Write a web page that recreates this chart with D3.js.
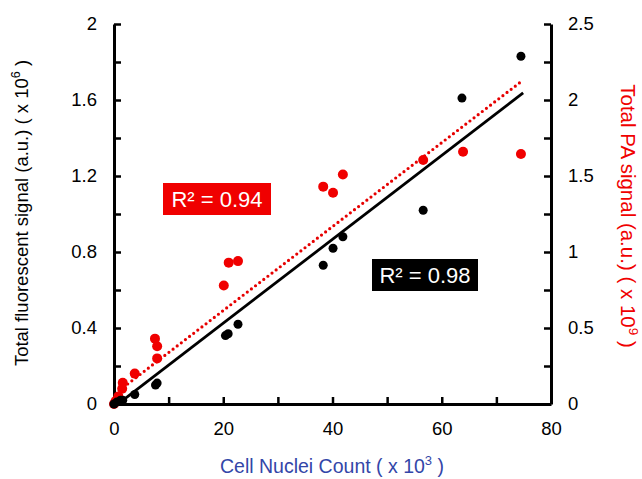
<!DOCTYPE html>
<html>
<head>
<meta charset="utf-8">
<script src="https://cdn.jsdelivr.net/npm/d3@7"></script>
<style>
  body { margin: 0; background: #fff; }
  svg { font-family: "Liberation Sans", Arial, sans-serif; }
</style>
</head>
<body>
<svg id="chart" width="642" height="479"></svg>
<script>
// nuclei count (x 10^3) and fluorescent signal (x 10^6)
const fluorCount = [0, 0.5, 1.2, 1.6, 3.8, 7.6, 7.9, 20.4, 20.9, 22.7, 38.3, 40.1, 41.9, 56.6, 63.7, 74.5];
const fluorSignal = [0, 0.01, 0.02, 0.02, 0.05, 0.10, 0.11, 0.36, 0.37, 0.42, 0.73, 0.82, 0.88, 1.02, 1.61, 1.83];

// nuclei count and PA signal (x 10^9)
const paCount = [0, 0.3, 0.8, 1.5, 1.6, 3.8, 7.5, 7.9, 7.9, 20.1, 21.0, 22.7, 38.3, 40.1, 41.9, 56.6, 63.9, 74.5];
const paSignal = [0, 0.02, 0.05, 0.10, 0.14, 0.20, 0.43, 0.38, 0.30, 0.78, 0.93, 0.94, 1.43, 1.39, 1.51, 1.605, 1.66, 1.645];

// trend line end points
const fluorFitX = [1, 74.9];
const fluorFitY = [0.006, 1.637];
const paFitX = [1, 74.5];
const paFitY = [0.09, 2.12];

const xTicks = [0, 10, 20, 30, 40, 50, 60, 70, 80];
const leftTicks = [0, 0.2, 0.4, 0.6, 0.8, 1, 1.2, 1.4, 1.6, 1.8, 2];
const rightTicks = [0, 0.25, 0.5, 0.75, 1, 1.25, 1.5, 1.75, 2, 2.25, 2.5];

const svg = d3.select("#chart");
const margin = { top: 24, right: 91, bottom: 75, left: 114 };
const width = 642 - margin.left - margin.right;
const height = 479 - margin.top - margin.bottom;

const g = svg.append("g").attr("transform", `translate(${margin.left},${margin.top})`);

const x = d3.scaleLinear().domain([0, 80]).range([0, width]);
const yLeft = d3.scaleLinear().domain([0, 2]).range([height, 0]);
const yRight = d3.scaleLinear().domain([0, 2.5]).range([height, 0]);

const styleAxis = sel => {
    sel.select(".domain").attr("stroke", "#000").attr("stroke-width", 3);
    sel.selectAll(".tick line").attr("stroke", "#000").attr("stroke-width", 2.5);
    sel.selectAll(".tick text").attr("fill", "#000").style("font-size", "18.5px")
        .style("font-family", "Liberation Sans, Arial, sans-serif");
};

// x axis, ticks pointing inward
g.append("g")
    .attr("transform", `translate(0,${height})`)
    .call(d3.axisBottom(x).tickValues(xTicks).tickSizeInner(-7).tickSizeOuter(0).tickPadding(18)
        .tickFormat(d => d % 20 === 0 ? d : ""))
    .call(styleAxis);

g.append("g")
    .call(d3.axisLeft(yLeft).tickValues(leftTicks).tickSizeInner(-7).tickSizeOuter(0).tickPadding(17)
        .tickFormat(d => Math.round(d * 10) % 4 === 0 ? d3.format("~g")(d) : ""))
    .call(styleAxis);

g.append("g")
    .attr("transform", `translate(${width},0)`)
    .call(d3.axisRight(yRight).tickValues(rightTicks).tickSizeInner(-7).tickSizeOuter(0).tickPadding(17)
        .tickFormat(d => Math.round(d * 100) % 50 === 0 ? d3.format("~g")(d) : ""))
    .call(styleAxis);

// trend lines
const fluorLine = d3.line().x(d => x(d[0])).y(d => yLeft(d[1]));
const paLine = d3.line().x(d => x(d[0])).y(d => yRight(d[1]));

g.append("path")
    .datum(d3.zip(paFitX, paFitY))
    .attr("fill", "none")
    .attr("stroke", "#e60000")
    .attr("stroke-width", 3.2)
    .attr("stroke-linecap", "round")
    .attr("stroke-dasharray", "0 5.2")
    .attr("d", paLine);

g.append("path")
    .datum(d3.zip(fluorFitX, fluorFitY))
    .attr("fill", "none")
    .attr("stroke", "#000")
    .attr("stroke-width", 2.8)
    .attr("d", fluorLine);

// points
g.selectAll(".pa-point")
    .data(d3.zip(paCount, paSignal))
    .enter()
    .append("circle")
    .attr("class", "pa-point")
    .attr("cx", d => x(d[0]))
    .attr("cy", d => yRight(d[1]))
    .attr("r", 5)
    .attr("fill", "#f00000");

g.selectAll(".fluor-point")
    .data(d3.zip(fluorCount, fluorSignal))
    .enter()
    .append("circle")
    .attr("class", "fluor-point")
    .attr("cx", d => x(d[0]))
    .attr("cy", d => yLeft(d[1]))
    .attr("r", 4.5)
    .attr("fill", "#000");

// R² boxes
const rBox = (cx, cy, w, h, fill, label) => {
    g.append("rect")
        .attr("x", cx - w / 2).attr("y", cy - h / 2)
        .attr("width", w).attr("height", h)
        .attr("fill", fill);
    g.append("text")
        .attr("x", cx).attr("y", cy + 8)
        .attr("text-anchor", "middle")
        .attr("fill", "#fff")
        .style("font-size", "22px")
        .text(label);
};
rBox(217 - margin.left, 199 - margin.top, 108, 32, "#f00000", "R² = 0.94");
rBox(425 - margin.left, 275 - margin.top, 106, 32, "#000", "R² = 0.98");

// axis titles
const xTitle = svg.append("text")
    .attr("x", 332).attr("y", 473)
    .attr("text-anchor", "middle")
    .attr("fill", "#3346a8")
    .style("font-size", "19.5px");
xTitle.append("tspan").text("Cell Nuclei Count ( x 10");
xTitle.append("tspan").attr("dy", -8).style("font-size", "13px").text("3");
xTitle.append("tspan").attr("dy", 8).text(" )");

const lTitle = svg.append("text")
    .attr("transform", "translate(28,213) rotate(-90)")
    .attr("text-anchor", "middle")
    .attr("fill", "#000")
    .style("font-size", "18.5px");
lTitle.append("tspan").text("Total fluorescent signal (a.u.) ( x 10");
lTitle.append("tspan").attr("dy", -8).style("font-size", "12.5px").text("6");
lTitle.append("tspan").attr("dy", 8).text(" )");

const rTitle = svg.append("text")
    .attr("transform", "translate(621,216) rotate(90)")
    .attr("text-anchor", "middle")
    .attr("fill", "#f00000")
    .style("font-size", "20.5px");
rTitle.append("tspan").text("Total PA signal (a.u.) ( x 10");
rTitle.append("tspan").attr("dy", -8).style("font-size", "13.5px").text("9");
rTitle.append("tspan").attr("dy", 8).text(" )");
</script>
</body>
</html>
